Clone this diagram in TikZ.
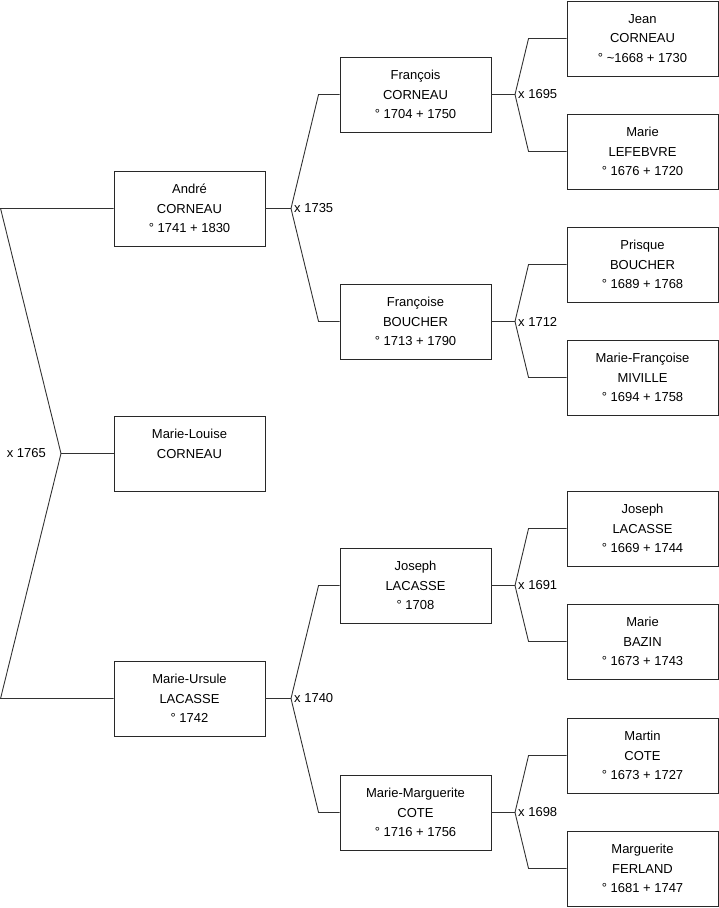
\documentclass[tikz,border=0pt]{standalone}
\usepackage{fontspec}
\setmainfont{Liberation Sans}
\usepackage{tikz}
\usetikzlibrary{positioning,calc}
\definecolor{boxline}{RGB}{40,40,40}
\definecolor{wire}{RGB}{50,50,50}

\begin{document}
\begin{tikzpicture}[x=1pt,y=-1pt]
  % ancestor chart, three generations
  \tikzset{person/.style={draw=boxline,line width=0.9pt,fill=white,minimum width=151pt,minimum height=75pt,
      inner sep=0pt,align=center,font=\fontsize{13}{19.5}\selectfont},
    link/.style={draw=wire,line width=0.9pt},
    wed/.style={font=\fontsize{13}{15}\selectfont,inner sep=3pt}}
  \useasboundingbox (0,0) rectangle (719,908);
  % generation 1
  \node[person] (andre) at (189.5,208.5) {André\\CORNEAU\\° 1741 + 1830};
  \node[person] (louise) at (189.5,453.5) {Marie-Louise\\CORNEAU\\\phantom{0}};
  \node[person] (ursule) at (189.5,698.5) {Marie-Ursule\\LACASSE\\° 1742};
  % generation 2
  \node[person] (francois) at (415.5,94.5) {François\\CORNEAU\\° 1704 + 1750};
  \node[person] (francoise) at (415.5,321.5) {Françoise\\BOUCHER\\° 1713 + 1790};
  \node[person] (joseph) at (415.5,585.5) {Joseph\\LACASSE\\° 1708};
  \node[person] (marguerite) at (415.5,812.5) {Marie-Marguerite\\COTE\\° 1716 + 1756};
  % generation 3
  \node[person] (jean) at (642.5,38.5) {Jean\\CORNEAU\\° \textasciitilde1668 + 1730};
  \node[person] (lefebvre) at (642.5,151.5) {Marie\\LEFEBVRE\\° 1676 + 1720};
  \node[person] (prisque) at (642.5,264.5) {Prisque\\BOUCHER\\° 1689 + 1768};
  \node[person] (miville) at (642.5,377.5) {Marie-Françoise\\MIVILLE\\° 1694 + 1758};
  \node[person] (josephsr) at (642.5,528.5) {Joseph\\LACASSE\\° 1669 + 1744};
  \node[person] (bazin) at (642.5,641.5) {Marie\\BAZIN\\° 1673 + 1743};
  \node[person] (martin) at (642.5,755.5) {Martin\\COTE\\° 1673 + 1727};
  \node[person] (ferland) at (642.5,868.5) {Marguerite\\FERLAND\\° 1681 + 1747};
  % marriage forks
  \coordinate (m0) at (61,453.5);
  \coordinate (m1) at (291,208.5);
  \coordinate (m2) at (291,698.5);
  \coordinate (m3) at (515,94.5);
  \coordinate (m4) at (515,321.5);
  \coordinate (m5) at (515,585.5);
  \coordinate (m6) at (515,812.5);
  \draw[link] (louise.west) -- (m0);
  \draw[link] (andre.west) -- ++(-113,0) -- (m0) -- ($(ursule.west)+(-113,0)$) -- (ursule.west);
  \draw[link] (andre.east) -- (m1);
  \draw[link] (francois.west) -- ++(-21,0) -- (m1) -- ($(francoise.west)+(-21,0)$) -- (francoise.west);
  \draw[link] (ursule.east) -- (m2);
  \draw[link] (joseph.west) -- ++(-21,0) -- (m2) -- ($(marguerite.west)+(-21,0)$) -- (marguerite.west);
  \draw[link] (francois.east) -- (m3);
  \draw[link] (jean.west) -- ++(-38,0) -- (m3) -- ($(lefebvre.west)+(-38,0)$) -- (lefebvre.west);
  \draw[link] (francoise.east) -- (m4);
  \draw[link] (prisque.west) -- ++(-38,0) -- (m4) -- ($(miville.west)+(-38,0)$) -- (miville.west);
  \draw[link] (joseph.east) -- (m5);
  \draw[link] (josephsr.west) -- ++(-38,0) -- (m5) -- ($(bazin.west)+(-38,0)$) -- (bazin.west);
  \draw[link] (marguerite.east) -- (m6);
  \draw[link] (martin.west) -- ++(-38,0) -- (m6) -- ($(ferland.west)+(-38,0)$) -- (ferland.west);
  % marriage years
  \node[wed,anchor=east,xshift=-12pt] (w0) at (m0) {x 1765};
  \node[wed,anchor=west] (w1) at (m1) {x 1735};
  \node[wed,anchor=west] (w2) at (m2) {x 1740};
  \node[wed,anchor=west] (w3) at (m3) {x 1695};
  \node[wed,anchor=west] (w4) at (m4) {x 1712};
  \node[wed,anchor=west] (w5) at (m5) {x 1691};
  \node[wed,anchor=west] (w6) at (m6) {x 1698};
\end{tikzpicture}
\end{document}
